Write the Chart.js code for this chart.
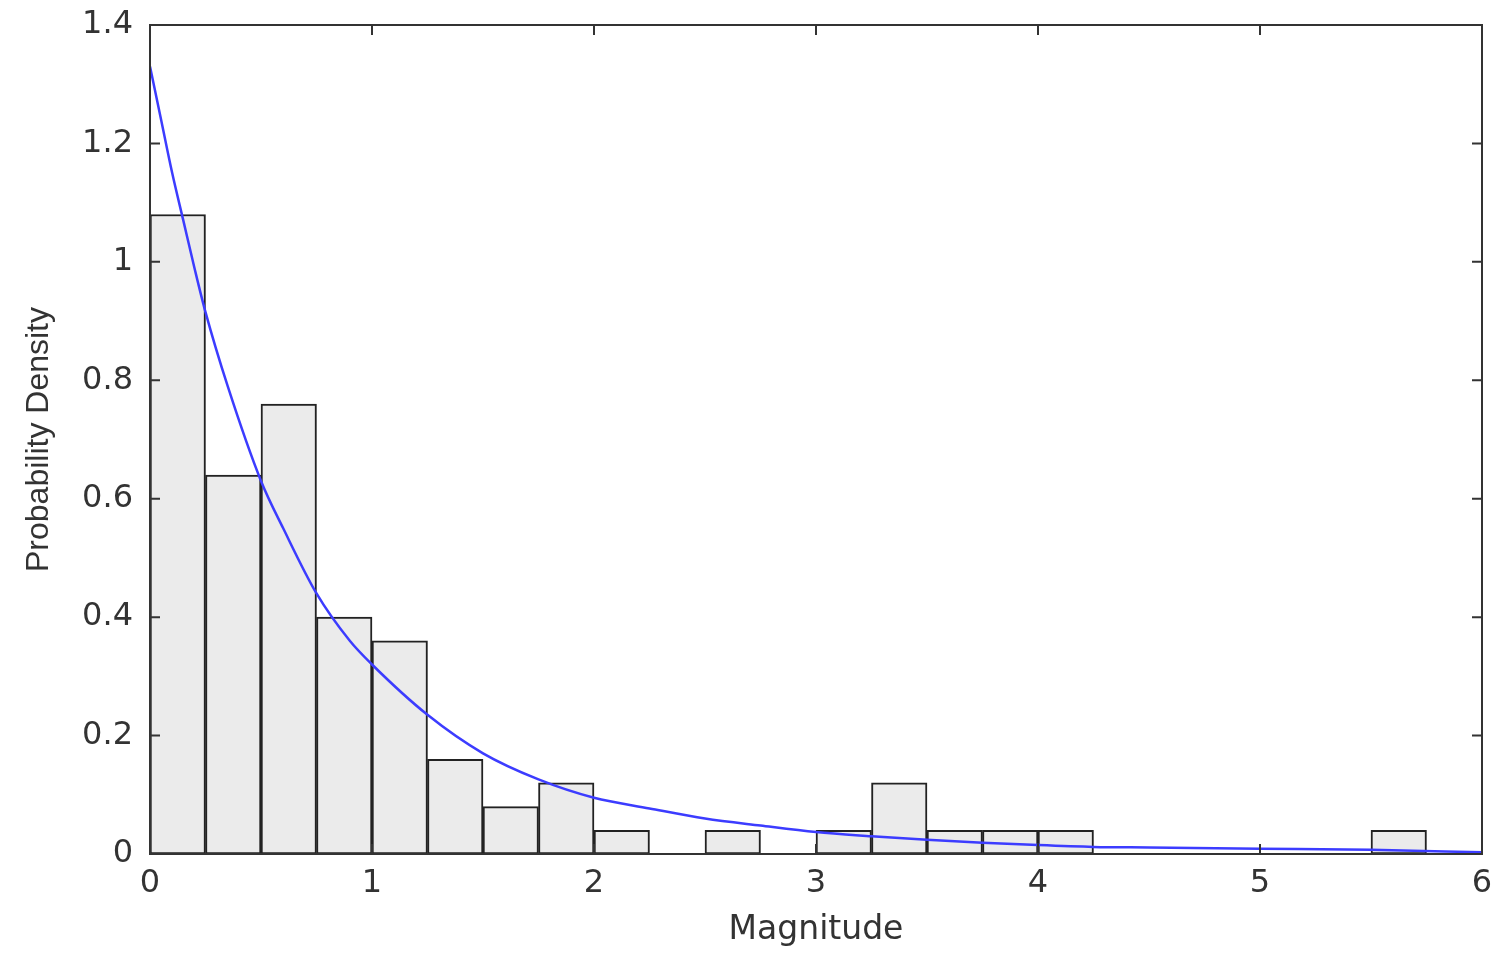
<!DOCTYPE html>
<html>
<head>
<meta charset="utf-8">
<title>Probability Density vs Magnitude</title>
<script src="https://cdn.jsdelivr.net/npm/chart.js@4.4.1/dist/chart.umd.min.js"></script>
<style>
    body { margin: 0; background: #fff; }
    canvas { display: block; }
</style>
</head>
<body>
<canvas id="histChart" width="1499" height="954"></canvas>
<script>
// histogram bins (width 0.25), centers and density per bin
const binCenters = [0.125, 0.375, 0.625, 0.875, 1.125, 1.375, 1.625, 1.875, 2.125, 2.375, 2.625, 2.875,
                    3.125, 3.375, 3.625, 3.875, 4.125, 4.375, 4.625, 4.875, 5.125, 5.375, 5.625, 5.875];
const binDensity = [1.08, 0.64, 0.76, 0.40, 0.36, 0.16, 0.08, 0.12, 0.04, 0, 0.04, 0,
                    0.04, 0.12, 0.04, 0.04, 0.04, 0, 0, 0, 0, 0, 0.04, 0];

// fitted curve
const curveX = [0, 0.05, 0.1, 0.15, 0.2, 0.25, 0.35, 0.5, 0.6, 0.75, 0.9, 1.0, 1.25, 1.5, 1.75,
                2.0, 2.25, 2.5, 2.75, 3.0, 3.25, 3.5, 3.75, 4.0, 4.25, 4.5, 5.0, 5.5, 6.0];
const curveY = [1.33, 1.24, 1.15, 1.07, 0.99, 0.915, 0.79, 0.63, 0.55, 0.44, 0.36, 0.32, 0.235, 0.17, 0.126,
                0.095, 0.077, 0.06, 0.048, 0.037, 0.030, 0.024, 0.019, 0.015, 0.012, 0.011, 0.009, 0.007, 0.003];

const xMin = 0, xMax = 6, xStep = 1;
const yMin = 0, yMax = 1.4, yStep = 0.2;

// box around the plot with inward ticks on all four sides
const frameTicks = {
    id: 'frameTicks',
    afterDraw(chart) {
        const { ctx, chartArea: a, scales: { x, y } } = chart;
        const len = 10;
        ctx.save();
        ctx.strokeStyle = '#333';
        ctx.lineWidth = 2;
        ctx.strokeRect(a.left, a.top, a.right - a.left, a.bottom - a.top);
        ctx.beginPath();
        y.ticks.forEach(t => {
            const py = y.getPixelForValue(t.value);
            ctx.moveTo(a.left, py); ctx.lineTo(a.left + len, py);
            ctx.moveTo(a.right, py); ctx.lineTo(a.right - len, py);
        });
        x.ticks.forEach(t => {
            const px = x.getPixelForValue(t.value);
            ctx.moveTo(px, a.bottom); ctx.lineTo(px, a.bottom - len);
            ctx.moveTo(px, a.top); ctx.lineTo(px, a.top + len);
        });
        ctx.stroke();
        ctx.restore();
    }
};

const tickFont = { family: 'DejaVu Sans', size: 32 };

new Chart(document.getElementById('histChart'), {
    type: 'bar',
    data: {
        datasets: [
            {
                type: 'line',
                data: curveX.map((v, i) => ({ x: v, y: curveY[i] })),
                borderColor: '#3c3cff',
                borderWidth: 2.5,
                pointRadius: 0,
                cubicInterpolationMode: 'monotone',
                order: 1
            },
            {
                data: binCenters.map((v, i) => ({ x: v, y: binDensity[i] })),
                backgroundColor: '#ebebeb',
                borderColor: '#222',
                borderWidth: 2,
                borderSkipped: false,
                barPercentage: 1,
                categoryPercentage: 1,
                order: 2
            }
        ]
    },
    options: {
        responsive: false,
        animation: false,
        layout: { padding: { top: 25, right: 17, left: 0, bottom: 0 } },
        plugins: { legend: { display: false }, tooltip: { enabled: false } },
        scales: {
            x: {
                type: 'linear',
                offset: false,
                min: xMin, max: xMax,
                grid: { display: false, drawTicks: false },
                border: { display: false },
                ticks: { stepSize: xStep, color: '#333', padding: 10, font: tickFont },
                title: { display: true, text: 'Magnitude', color: '#333', padding: { top: 12 },
                         font: { family: 'DejaVu Sans', size: 33 } },
                afterFit: s => { s.height = 100; s.paddingLeft = 0; s.paddingRight = 0; }
            },
            y: {
                min: yMin, max: yMax,
                grid: { display: false, drawTicks: false },
                border: { display: false },
                ticks: { stepSize: yStep, color: '#333', padding: 17, font: tickFont,
                         callback: v => String(+v.toFixed(1)) },
                title: { display: true, text: 'Probability Density', color: '#333', padding: { top: 20, bottom: 0 },
                         font: { family: "'Liberation Sans Narrow', 'Liberation Sans', sans-serif", size: 32 } },
                afterFit: s => { s.width = 150; s.paddingTop = 0; s.paddingBottom = 0; }
            }
        }
    },
    plugins: [frameTicks]
});
</script>
</body>
</html>
